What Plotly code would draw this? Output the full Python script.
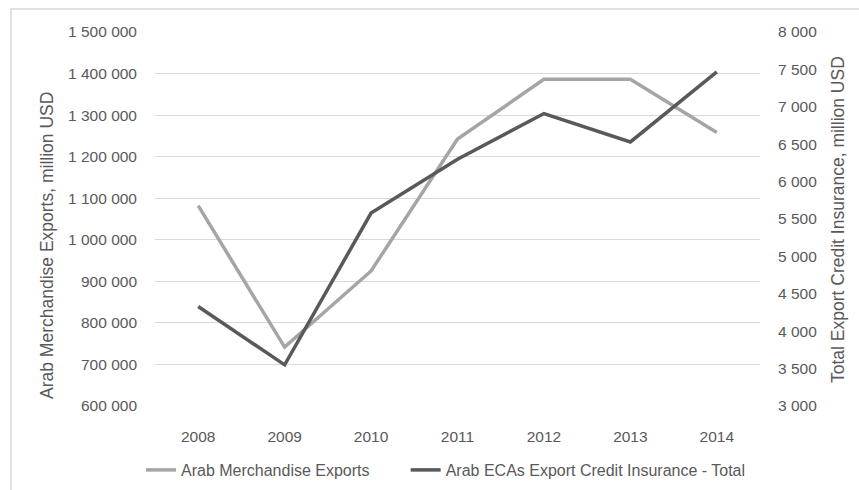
import plotly.graph_objects as go

years = ["2008", "2009", "2010", "2011", "2012", "2013", "2014"]
merch_exports = [1082000, 741600, 925000, 1242500, 1386000, 1386000, 1258000]
eca_insurance = [4330, 3550, 5580, 6300, 6910, 6530, 7468]

left_ticks = list(range(600000, 1500001, 100000))
right_ticks = list(range(3000, 8001, 500))

def fmt(v):
    return f"{v:,}".replace(",", " ")

FONT = "Liberation Sans, Arial, sans-serif"
TXT = "#595959"
PAD = "\u00a0" * 7

fig = go.Figure()
fig.add_trace(go.Scatter(
    x=years, y=merch_exports, mode="lines", name="Arab Merchandise Exports" + PAD,
    line=dict(color="#a5a5a5", width=3.5), yaxis="y"))
fig.add_trace(go.Scatter(
    x=years, y=eca_insurance, mode="lines", name="Arab ECAs Export Credit Insurance - Total",
    line=dict(color="#595959", width=3.5), yaxis="y2"))

L, R, T, B = 155, 760, 32, 406
W, H = 859, 490
pw, ph = R - L, B - T

def px(x):
    return (x - L) / pw

def py(y):
    return (B - y) / ph

fig.update_layout(
    width=W, height=H,
    margin=dict(l=L, r=W - R, t=T, b=H - B, autoexpand=False),
    paper_bgcolor="white", plot_bgcolor="white",
    font=dict(family=FONT, color=TXT, size=15.5),
    showlegend=True,
    legend=dict(orientation="h", x=px(446), xanchor="center", y=py(470), yanchor="middle",
                font=dict(size=16, color=TXT), bgcolor="rgba(0,0,0,0)"),
    xaxis=dict(type="category", range=[-0.5, 6.5], showgrid=False, zeroline=False,
               showline=False, ticks="", tickfont=dict(size=15.5, color=TXT),
               ticklabelstandoff=19),
    yaxis=dict(range=[600000, 1500000], tickvals=left_ticks,
               ticktext=[fmt(v) for v in left_ticks],
               showgrid=True, gridcolor="#d9d9d9", gridwidth=1, zeroline=False,
               showline=False, ticks="", tickfont=dict(size=15.5, color=TXT),
               ticklabelstandoff=17),
    yaxis2=dict(range=[3000, 8000], tickvals=right_ticks,
                ticktext=[fmt(v) for v in right_ticks],
                overlaying="y", side="right", showgrid=False, zeroline=False,
                showline=False, ticks="", tickfont=dict(size=15.5, color=TXT),
                ticklabelstandoff=17),
    annotations=[
        dict(text="Arab Merchandise Exports, million USD", xref="paper", yref="paper",
             x=px(47), y=py(246), textangle=-90, showarrow=False,
             font=dict(size=17.5, color=TXT), xanchor="center", yanchor="middle"),
        dict(text="Total Export Credit Insurance, million USD", xref="paper", yref="paper",
             x=px(838), y=py(220), textangle=-90, showarrow=False,
             font=dict(size=17.5, color=TXT), xanchor="center", yanchor="middle"),
    ],
    shapes=[dict(type="rect", xref="paper", yref="paper",
                 x0=px(11), x1=px(870), y0=py(500), y1=py(9),
                 line=dict(color="#d9d9d9", width=1.5), fillcolor="rgba(0,0,0,0)",
                 layer="below")],
)

fig.write_html("out.html", config={"displayModeBar": False},
               post_script="document.body.style.margin='0';")
